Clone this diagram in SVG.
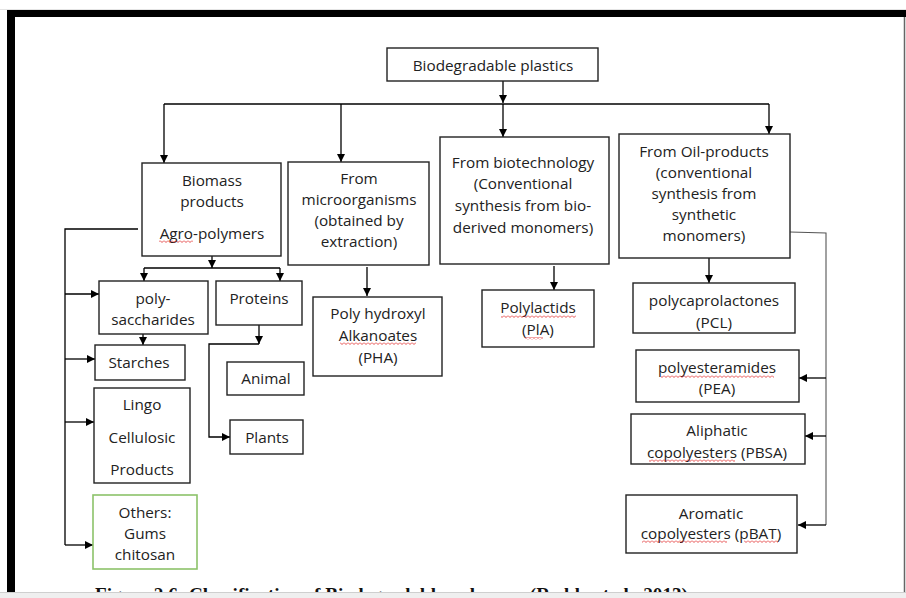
<svg xmlns="http://www.w3.org/2000/svg" width="906" height="598" viewBox="0 0 906 598">
<defs>
<marker id="ah" markerUnits="userSpaceOnUse" markerWidth="9" markerHeight="9" refX="8" refY="4" orient="auto">
<path d="M0,0 L8,4 L0,8 z" fill="#000"/>
</marker>
<pattern id="wave" patternUnits="userSpaceOnUse" width="4" height="3">
<polyline points="0,0.5 2,2.5 4,0.5" fill="none" stroke="#e02020" stroke-width="0.8"/>
</pattern>
<style>
.box{fill:#fff;stroke:#222;stroke-width:1.4}
.green{fill:#fff;stroke:#8cc26a;stroke-width:1.6}
.t{font-family:"Open Sans","Noto Sans",sans-serif;font-size:15.3px;fill:#222;text-anchor:middle}
.c{fill:none;stroke:#000;stroke-width:1.3}
.a{fill:none;stroke:#000;stroke-width:1.3;marker-end:url(#ah)}
.g{fill:none;stroke:#555;stroke-width:1.1}
.w{fill:url(#wave)}
</style>
</defs>
<rect x="0" y="0" width="906" height="598" fill="#fff"/>
<!-- frame -->
<line x1="0" y1="9.5" x2="906" y2="9.5" stroke="#e4e4e4" stroke-width="1"/>
<rect x="7" y="10" width="899" height="7" fill="#000"/>
<rect x="7" y="10" width="8" height="582" fill="#000"/>
<line x1="904.5" y1="17" x2="904.5" y2="592" stroke="#666" stroke-width="1.5"/>

<g id="connectors">
<line class="a" x1="503" y1="81" x2="503" y2="103"/>
<line class="c" x1="164" y1="104" x2="769" y2="104"/>
<line class="a" x1="164" y1="104" x2="164" y2="163"/>
<line class="a" x1="341" y1="104" x2="341" y2="162"/>
<line class="a" x1="503" y1="104" x2="503" y2="137"/>
<line class="a" x1="769" y1="104" x2="769" y2="134"/>
<path class="c" d="M138,229 H65 V545"/>
<line class="a" x1="65" y1="294" x2="99" y2="294"/>
<line class="a" x1="65" y1="359" x2="95" y2="359"/>
<line class="a" x1="65" y1="422" x2="94" y2="422"/>
<line class="a" x1="65" y1="545" x2="93" y2="545"/>
<line class="a" x1="212" y1="256" x2="212" y2="268"/>
<line class="c" x1="144" y1="268" x2="280" y2="268"/>
<line class="a" x1="144" y1="268" x2="144" y2="281"/>
<line class="a" x1="280" y1="268" x2="280" y2="281"/>
<line class="a" x1="143" y1="334" x2="143" y2="345"/>
<line class="a" x1="259" y1="325" x2="259" y2="344"/>
<path class="a" d="M259,344 H209 V437 H230"/>
<line class="a" x1="367" y1="267" x2="367" y2="296"/>
<line class="a" x1="554" y1="266" x2="554" y2="290"/>
<line class="a" x1="709" y1="258" x2="709" y2="283"/>
<path class="g" d="M790,232 L826,233 V525"/>
<line class="a" x1="826" y1="378" x2="799" y2="378"/>
<line class="a" x1="826" y1="436" x2="805" y2="436"/>
<line class="a" x1="826" y1="525" x2="798" y2="525"/>
</g>

<g id="root"><rect class="box" x="387" y="48" width="211" height="33"/><text class="t" x="493" y="70.5">Biodegradable plastics</text></g>
<g id="biomass"><rect class="box" x="142" y="163" width="139" height="93"/><text class="t" x="212" y="185.5">Biomass</text><text class="t" x="212" y="206.5">products</text><text class="t" x="212" y="238.5">Agro-polymers</text></g>
<g id="micro"><rect class="box" x="288" y="162" width="141" height="103"/><text class="t" x="359" y="183.5">From</text><text class="t" x="359" y="204.5">microorganisms</text><text class="t" x="359" y="225.5">(obtained by</text><text class="t" x="359" y="246.5">extraction)</text></g>
<g id="biotech"><rect class="box" x="440" y="137" width="169" height="127"/><text class="t" x="523" y="167.5">From biotechnology</text><text class="t" x="523" y="188.5">(Conventional</text><text class="t" x="523" y="210.5">synthesis from bio-</text><text class="t" x="523" y="232.5">derived monomers)</text></g>
<g id="oil"><rect class="box" x="619" y="134" width="171" height="124"/><text class="t" x="704" y="156.5">From Oil-products</text><text class="t" x="704" y="177.5">(conventional</text><text class="t" x="704" y="198.5">synthesis from</text><text class="t" x="704" y="219.5">synthetic</text><text class="t" x="704" y="240.5">monomers)</text></g>
<g id="polysaccharides"><rect class="box" x="99" y="281" width="109" height="53"/><text class="t" x="153" y="303.5">poly-</text><text class="t" x="153" y="324.5">saccharides</text></g>
<g id="proteins"><rect class="box" x="216" y="281" width="86" height="44"/><text class="t" x="259" y="303.5">Proteins</text></g>
<g id="starches"><rect class="box" x="95" y="345" width="90" height="35"/><text class="t" x="139" y="367.5">Starches</text></g>
<g id="animal"><rect class="box" x="227" y="362" width="77" height="33"/><text class="t" x="266" y="383.5">Animal</text></g>
<g id="plants"><rect class="box" x="230" y="420" width="73" height="34"/><text class="t" x="267" y="442.5">Plants</text></g>
<g id="lingo"><rect class="box" x="94" y="388" width="96" height="95"/><text class="t" x="142" y="409.5">Lingo</text><text class="t" x="142" y="442.5">Cellulosic</text><text class="t" x="142" y="474.5">Products</text></g>
<g id="others"><rect class="green" x="93" y="495" width="104" height="74"/><text class="t" x="145" y="517.5">Others:</text><text class="t" x="145" y="538.5">Gums</text><text class="t" x="145" y="559.5">chitosan</text></g>
<g id="pha"><rect class="box" x="313" y="297" width="129" height="79"/><text class="t" x="378" y="318.5">Poly hydroxyl</text><text class="t" x="378" y="340.5">Alkanoates</text><text class="t" x="378" y="362.5">(PHA)</text></g>
<g id="pla"><rect class="box" x="482" y="290" width="112" height="57"/><text class="t" x="538" y="312.5">Polylactids</text><text class="t" x="538" y="334.5">(PlA)</text></g>
<g id="pcl"><rect class="box" x="633" y="283" width="162" height="50"/><text class="t" x="714" y="305.5">polycaprolactones</text><text class="t" x="714" y="327.5">(PCL)</text></g>
<g id="pea"><rect class="box" x="636" y="350" width="163" height="52"/><text class="t" x="717" y="372.5">polyesteramides</text><text class="t" x="717" y="393.5">(PEA)</text></g>
<g id="pbsa"><rect class="box" x="631" y="414" width="174" height="50"/><text class="t" x="717" y="435.5">Aliphatic</text><text class="t" x="717" y="457.5">copolyesters (PBSA)</text></g>
<g id="pbat"><rect class="box" x="626" y="495" width="171" height="58"/><text class="t" x="711" y="518.5">Aromatic</text><text class="t" x="711" y="538.5">copolyesters (pBAT)</text></g>

<g id="spellcheck">
<rect class="w" x="159" y="240" width="34" height="3"/>
<rect class="w" x="340" y="342" width="76" height="3"/>
<rect class="w" x="501" y="315" width="75" height="3"/>
<rect class="w" x="525" y="337" width="18" height="3"/>
<rect class="w" x="661" y="375" width="113" height="3"/>
<rect class="w" x="649" y="459" width="86" height="3"/>
<rect class="w" x="642" y="540" width="85" height="3"/>
<rect class="w" x="744" y="540" width="34" height="3"/>
</g>

<text x="95" y="601" font-family="Liberation Serif,serif" font-weight="bold" font-size="19" textLength="593" lengthAdjust="spacingAndGlyphs" fill="#111">Figure 2.6: Classification of Biodegradable polymers (Reddy et al., 2013)</text>
<rect x="0" y="592" width="906" height="6" fill="#efefef"/>
<line x1="0" y1="592.5" x2="906" y2="592.5" stroke="#cfcfcf" stroke-width="1"/>
</svg>
